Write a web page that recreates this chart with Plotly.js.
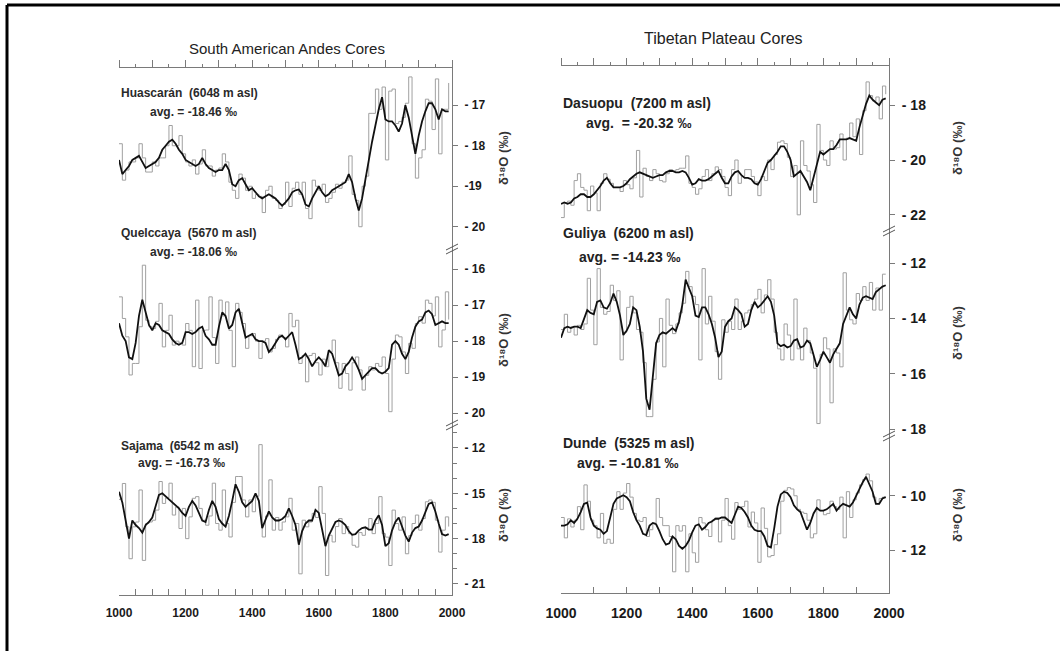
<!DOCTYPE html>
<html>
<head>
<meta charset="utf-8">
<script src="https://cdn.plot.ly/plotly-3.0.1.min.js"></script>
<style>html,body{margin:0;padding:0;background:#fff;}#chart{width:1060px;height:651px;}</style>
</head>
<body>
<div id="chart"></div>
<script>
// ---------- data ----------
const years = [1000,1010,1020,1030,1040,1050,1060,1070,1080,1090,
1100,1110,1120,1130,1140,1150,1160,1170,1180,1190,
1200,1210,1220,1230,1240,1250,1260,1270,1280,1290,
1300,1310,1320,1330,1340,1350,1360,1370,1380,1390,
1400,1410,1420,1430,1440,1450,1460,1470,1480,1490,
1500,1510,1520,1530,1540,1550,1560,1570,1580,1590,
1600,1610,1620,1630,1640,1650,1660,1670,1680,1690,
1700,1710,1720,1730,1740,1750,1760,1770,1780,1790,
1800,1810,1820,1830,1840,1850,1860,1870,1880,1890,
1900,1910,1920,1930,1940,1950,1960,1970,1980,1990];

const huascaranDecadal = [-17.95,-18.85,-18.6,-18.4,-18.4,-18.3,-17.95,-18.3,-18.65,-18.65,
-18.4,-18.5,-18.3,-18.3,-18.0,-17.5,-18.0,-18.0,-17.75,-18.2,
-18.4,-18.5,-18.35,-18.7,-18.45,-18.1,-18.5,-18.5,-18.75,-18.6,
-18.55,-18.2,-18.4,-18.9,-19.1,-19.3,-18.7,-18.8,-19.1,-19.0,
-19.3,-19.2,-19.25,-19.65,-19.1,-19.0,-19.3,-19.35,-19.55,-19.45,
-18.9,-19.5,-19.05,-18.9,-19.2,-18.9,-19.55,-19.8,-18.85,-19.0,
-19.1,-18.95,-19.4,-19.3,-19.15,-18.95,-19.05,-18.9,-18.85,-18.25,
-19.2,-19.35,-20.0,-19.0,-18.75,-17.2,-17.2,-16.6,-17.1,-16.55,
-18.35,-16.65,-16.6,-17.45,-17.4,-17.3,-16.95,-16.3,-17.95,-18.8,
-18.3,-18.1,-16.85,-16.9,-17.6,-16.35,-18.2,-17.1,-17.1,-16.45];
const huascaranSmooth = [-18.35,-18.7,-18.6,-18.5,-18.35,-18.3,-18.25,-18.4,-18.55,-18.5,
-18.45,-18.4,-18.3,-18.1,-18.0,-17.9,-17.85,-17.95,-18.1,-18.2,
-18.35,-18.4,-18.45,-18.5,-18.45,-18.3,-18.45,-18.55,-18.6,-18.65,
-18.6,-18.6,-18.45,-18.6,-18.95,-19.0,-18.85,-18.8,-18.95,-19.1,
-19.05,-19.15,-19.25,-19.3,-19.25,-19.2,-19.25,-19.3,-19.4,-19.48,
-19.4,-19.3,-19.15,-19.1,-19.08,-19.2,-19.45,-19.5,-19.3,-19.15,
-19.0,-19.15,-19.25,-19.2,-19.1,-19.05,-19.0,-18.95,-18.9,-18.7,
-18.9,-19.3,-19.6,-19.3,-18.8,-18.4,-17.9,-17.5,-17.1,-16.8,
-17.35,-17.4,-17.4,-17.5,-17.65,-17.45,-17.0,-17.3,-17.8,-18.2,
-17.75,-17.4,-17.15,-16.95,-16.95,-17.1,-17.35,-17.1,-17.15,-17.15];

const quelccayaDecadal = [-16.77,-17.37,-17.88,-18.94,-18.62,-18.62,-17.6,-15.89,-17.42,-17.6,
-17.65,-17.45,-16.95,-18.16,-17.7,-17.28,-18.11,-18.0,-18.05,-18.11,
-17.51,-17.7,-18.71,-16.86,-18.76,-17.7,-17.69,-16.77,-17.9,-18.62,
-16.86,-17.3,-16.91,-17.7,-18.71,-16.95,-17.2,-17.51,-18.2,-17.85,
-17.79,-18.0,-18.48,-18.0,-17.93,-18.3,-18.2,-17.95,-17.83,-17.9,
-18.16,-17.23,-17.6,-17.42,-18.62,-18.4,-19.13,-18.4,-18.34,-18.6,
-18.94,-18.5,-18.71,-18.3,-17.97,-18.6,-19.31,-18.62,-18.9,-19.36,
-18.6,-18.44,-18.8,-19.36,-18.95,-18.71,-18.8,-18.62,-18.7,-18.44,
-18.9,-19.96,-18.5,-17.83,-17.88,-18.3,-18.9,-18.06,-18.2,-17.51,
-17.32,-17.5,-16.86,-16.95,-17.3,-16.77,-18.16,-17.69,-16.63,-17.4];
const quelccayaSmooth = [-17.5,-17.85,-18.0,-18.45,-18.5,-18.05,-17.3,-16.85,-17.2,-17.55,
-17.7,-17.5,-17.55,-17.7,-17.75,-17.8,-17.95,-18.05,-18.1,-18.05,
-17.75,-17.75,-17.8,-17.75,-17.65,-17.6,-17.85,-17.95,-18.1,-18.1,
-17.6,-17.2,-17.3,-17.65,-17.55,-17.2,-17.1,-17.55,-17.9,-17.85,
-17.8,-17.95,-18.0,-18.0,-18.05,-18.3,-18.2,-18.05,-17.9,-17.85,
-17.95,-17.85,-17.75,-18.1,-18.5,-18.45,-18.35,-18.5,-18.7,-18.55,
-18.45,-18.55,-18.7,-18.25,-18.35,-18.65,-18.95,-18.9,-18.7,-18.6,
-18.45,-18.6,-18.8,-19.05,-18.95,-18.85,-18.75,-18.75,-18.85,-18.9,
-18.85,-18.75,-18.1,-18.0,-18.1,-18.35,-18.5,-18.3,-17.9,-17.6,
-17.45,-17.4,-17.2,-17.15,-17.25,-17.55,-17.5,-17.45,-17.5,-17.5];

const sajamaDecadal = [-15.4,-14.35,-17.22,-19.33,-17.22,-16.9,-14.78,-19.44,-17.0,-16.9,
-16.78,-16.11,-14.22,-15.67,-15.3,-14.33,-16.44,-15.9,-17.33,-16.0,
-18.0,-16.56,-15.33,-15.22,-16.0,-16.78,-17.11,-16.5,-14.33,-17.0,
-17.44,-14.78,-17.0,-17.89,-15.6,-13.89,-13.89,-15.44,-16.56,-15.44,
-16.22,-15.2,-11.78,-17.89,-16.5,-14.11,-17.44,-16.6,-17.44,-16.9,
-16.56,-15.33,-17.44,-17.0,-20.33,-16.78,-17.22,-16.9,-16.33,-16.6,
-14.56,-16.33,-20.44,-17.78,-18.22,-17.2,-16.67,-17.67,-17.2,-17.67,
-18.44,-18.56,-17.6,-17.78,-17.3,-16.67,-17.67,-17.0,-15.22,-17.67,
-17.9,-19.78,-16.11,-17.0,-17.44,-16.56,-19.0,-17.8,-17.0,-16.44,
-17.44,-16.67,-15.56,-15.44,-15.6,-16.78,-18.89,-17.44,-16.56,-17.2];
const sajamaSmooth = [-14.9,-15.6,-16.8,-18.0,-16.8,-17.1,-17.3,-17.6,-17.1,-16.9,
-16.6,-15.8,-15.1,-15.0,-15.2,-15.4,-15.6,-15.75,-16.0,-16.3,
-16.5,-15.9,-15.5,-15.8,-16.3,-16.8,-16.9,-16.1,-15.5,-15.9,
-16.7,-17.0,-17.2,-16.5,-15.5,-14.4,-14.9,-15.6,-15.9,-15.7,
-15.5,-15.0,-15.5,-17.3,-16.8,-16.2,-16.6,-16.8,-16.8,-16.7,
-16.5,-16.0,-16.5,-17.1,-18.4,-17.5,-17.0,-16.8,-16.8,-16.1,
-16.3,-17.3,-18.5,-17.8,-17.3,-16.9,-16.8,-16.9,-17.1,-17.5,
-17.75,-17.7,-17.45,-17.3,-17.25,-17.4,-17.4,-16.8,-16.45,-17.1,
-18.5,-18.3,-17.45,-16.9,-16.6,-17.2,-17.8,-18.2,-17.6,-17.3,
-17.2,-16.8,-16.3,-15.7,-15.6,-16.2,-17.0,-17.7,-17.8,-17.7];

const dasuopuDecadal = [-22.1,-21.55,-21.5,-21.65,-20.75,-20.5,-21.0,-21.1,-21.85,-20.95,
-21.2,-21.85,-20.85,-20.5,-20.7,-20.85,-21.0,-21.0,-21.15,-20.75,
-20.9,-21.05,-20.65,-19.65,-21.35,-20.3,-20.6,-20.75,-20.35,-20.5,
-20.75,-20.8,-20.5,-20.35,-20.4,-20.35,-20.3,-20.3,-19.85,-20.85,
-21.0,-21.25,-21.05,-20.6,-20.35,-20.75,-20.5,-20.25,-20.35,-20.6,
-21.0,-21.3,-20.35,-20.0,-20.85,-20.6,-20.35,-20.35,-20.6,-20.8,
-21.3,-20.6,-20.75,-20.0,-20.35,-19.8,-19.35,-19.3,-19.4,-19.9,
-20.6,-20.2,-22.0,-19.3,-20.2,-20.4,-20.9,-21.55,-18.7,-19.65,
-20.0,-20.2,-19.3,-19.6,-19.55,-19.05,-20.0,-19.2,-18.65,-19.15,
-18.5,-19.8,-18.2,-17.15,-17.65,-17.85,-17.7,-18.5,-17.3,-17.6];
const dasuopuSmooth = [-21.6,-21.55,-21.6,-21.55,-21.4,-21.35,-21.25,-21.25,-21.35,-21.35,
-21.25,-21.1,-20.95,-20.75,-20.65,-20.85,-21.0,-21.0,-21.0,-20.95,
-20.85,-20.7,-20.6,-20.5,-20.45,-20.5,-20.55,-20.6,-20.65,-20.6,
-20.55,-20.55,-20.45,-20.4,-20.4,-20.45,-20.45,-20.4,-20.45,-20.65,
-20.9,-20.85,-20.7,-20.75,-20.75,-20.7,-20.6,-20.5,-20.4,-20.65,
-20.85,-20.85,-20.6,-20.45,-20.4,-20.55,-20.65,-20.65,-20.7,-20.85,
-20.9,-20.7,-20.4,-20.1,-20.0,-19.85,-19.7,-19.5,-19.5,-19.7,
-20.0,-20.6,-20.5,-20.4,-20.6,-20.8,-21.1,-20.6,-20.1,-19.7,
-19.8,-19.7,-19.6,-19.6,-19.45,-19.25,-19.25,-19.25,-19.2,-19.25,
-19.3,-18.8,-18.4,-17.95,-17.65,-17.8,-17.9,-18.0,-17.8,-17.75];

const guliyaDecadal = [-14.4,-13.85,-14.5,-14.3,-14.6,-14.25,-14.4,-14.2,-12.55,-13.7,
-14.95,-12.2,-13.6,-13.85,-13.75,-12.8,-13.35,-13.0,-15.5,-14.5,
-13.6,-13.2,-13.8,-14.4,-14.5,-15.6,-17.55,-17.55,-16.2,-14.85,
-14.0,-15.75,-13.3,-14.25,-14.55,-14.2,-13.8,-13.45,-12.3,-12.85,
-13.2,-13.5,-15.5,-12.2,-14.2,-13.2,-14.1,-15.2,-16.2,-14.05,
-14.5,-14.1,-14.4,-13.3,-14.4,-14.1,-13.8,-13.7,-13.5,-13.3,
-12.95,-13.8,-13.15,-12.6,-13.3,-14.5,-15.1,-15.5,-14.2,-14.6,
-15.5,-13.3,-15.1,-15.5,-14.35,-14.8,-15.25,-15.8,-17.8,-15.3,
-14.7,-15.1,-17.05,-15.1,-15.25,-15.75,-12.35,-13.7,-14.05,-14.2,
-13.1,-13.35,-12.85,-13.35,-12.7,-13.7,-12.9,-13.7,-12.4,-12.4];
const guliyaSmooth = [-14.7,-14.35,-14.3,-14.35,-14.3,-14.3,-14.35,-14.0,-13.7,-13.8,
-13.85,-13.4,-13.35,-13.6,-13.65,-13.45,-13.1,-13.4,-13.9,-14.6,
-14.45,-14.2,-13.6,-13.7,-14.3,-15.2,-16.9,-17.3,-16.2,-14.9,
-14.6,-14.5,-14.55,-14.45,-14.35,-14.45,-14.1,-13.5,-12.6,-12.9,
-13.2,-13.9,-13.95,-13.6,-13.6,-13.85,-14.2,-14.7,-15.4,-15.2,
-14.3,-14.1,-14.0,-13.6,-13.7,-13.85,-14.3,-14.2,-13.7,-13.4,
-13.6,-13.5,-13.35,-13.2,-13.4,-13.9,-14.9,-15.0,-14.95,-15.05,
-15.0,-14.8,-14.75,-15.05,-15.0,-14.8,-14.9,-15.3,-15.75,-15.5,
-15.2,-15.4,-15.6,-15.3,-15.1,-14.9,-14.2,-13.9,-13.6,-13.85,
-14.0,-13.5,-13.25,-13.2,-13.25,-13.3,-13.05,-12.95,-12.85,-12.8];

const dundeDecadal = [-10.8,-11.55,-10.85,-11.15,-10.9,-10.4,-11.25,-9.6,-10.2,-10.9,
-11.1,-11.55,-10.65,-11.75,-11.6,-11.75,-10.5,-9.85,-10.5,-9.9,
-9.55,-10.05,-10.65,-10.9,-10.95,-10.8,-11.5,-11.25,-11.0,-10.1,
-10.8,-11.1,-11.1,-11.5,-12.8,-11.1,-11.3,-11.1,-12.8,-11.4,
-12.1,-12.45,-10.8,-11.0,-11.25,-11.5,-10.9,-10.8,-11.7,-10.9,
-10.1,-11.1,-11.6,-10.25,-10.5,-10.4,-10.2,-11.15,-10.6,-11.0,
-12.45,-10.45,-11.2,-12.25,-12.2,-11.8,-11.4,-10.2,-9.8,-9.7,
-9.75,-10.0,-10.5,-10.6,-10.65,-10.9,-11.55,-11.4,-10.15,-10.55,
-10.7,-10.65,-10.2,-10.4,-10.5,-10.05,-11.55,-9.85,-10.8,-10.15,
-9.9,-9.6,-9.4,-9.2,-9.45,-10.05,-10.3,-10.1,-10.05,-10.05];
const dundeSmooth = [-11.1,-11.1,-11.05,-10.9,-11.0,-10.85,-10.6,-10.3,-10.25,-10.8,
-11.1,-11.2,-11.25,-11.4,-11.3,-10.8,-10.3,-10.1,-10.05,-9.98,
-10.05,-10.2,-10.6,-10.9,-11.1,-11.4,-11.45,-11.1,-11.0,-11.05,
-11.3,-11.6,-11.8,-11.75,-11.5,-11.6,-11.85,-11.95,-11.85,-11.65,
-11.35,-11.1,-11.05,-11.25,-11.15,-11.0,-10.95,-10.85,-10.85,-10.8,
-10.8,-10.9,-11.0,-10.7,-10.4,-10.45,-10.6,-10.8,-11.1,-11.25,
-11.3,-11.3,-11.5,-11.85,-11.9,-11.2,-10.4,-9.95,-9.85,-9.9,
-10.05,-10.35,-10.5,-10.6,-10.9,-11.25,-11.0,-10.65,-10.45,-10.55,
-10.55,-10.5,-10.4,-10.3,-10.55,-10.4,-10.3,-10.35,-10.4,-10.25,
-10.0,-9.7,-9.5,-9.3,-9.55,-9.85,-10.3,-10.3,-10.1,-10.05];

const panelTitles = ["South American Andes Cores", "Tibetan Plateau Cores"];
const siteNames = ["Huascarán  (6048 m asl)", "Quelccaya  (5670 m asl)", "Sajama  (6542 m asl)",
                   "Dasuopu  (7200 m asl)", "Guliya  (6200 m asl)", "Dunde  (5325 m asl)"];
const siteAvgs = ["avg. = -18.46 ‰", "avg. = -18.06 ‰", "avg. = -16.73 ‰",
                  "avg.  = -20.32 ‰", "avg. = -14.23 ‰", "avg. = -10.81 ‰"];
const yTickVals = [[-17,-18,-19,-20],[-16,-17,-18,-19,-20],[-12,-15,-18,-21],
                   [-18,-20,-22],[-12,-14,-16,-18],[-10,-12]];
const yTickText = [["- 17","- 18","-19","- 20"],["- 16","- 17","- 18","- 19","- 20"],["- 12","- 15","- 18","- 21"],
                   ["- 18","- 20","- 22"],["- 12","- 14","- 16","- 18"],["- 10","- 12"]];
const yTitle = 'δ¹⁸O (‰)';

// ---------- layout helpers ----------
const W = 1060, H = 651;
const PX = p => p / W;
const PY = p => 1 - p / H;
const FONT = '"Liberation Sans", Arial, "DejaVu Sans", sans-serif';
const AXC = '#7a7a7a';

const LX = [PX(119), PX(452)];
const RX = [PX(561), PX(889)];

function stepTrace(y, xa, ya) {
  return {x: years, y: y, xaxis: xa, yaxis: ya, mode: 'lines', type: 'scatter',
          line: {shape: 'hv', color: '#a0a0a0', width: 1}, hoverinfo: 'skip', showlegend: false};
}
function smoothTrace(y, xa, ya) {
  return {x: years, y: y, xaxis: xa, yaxis: ya, mode: 'lines', type: 'scatter',
          line: {shape: 'linear', color: '#111', width: 1.8}, hoverinfo: 'skip', showlegend: false};
}

const data = [
  stepTrace(huascaranDecadal, 'x4', 'y'),  smoothTrace(huascaranSmooth, 'x4', 'y'),
  stepTrace(quelccayaDecadal, 'x', 'y2'),  smoothTrace(quelccayaSmooth, 'x', 'y2'),
  stepTrace(sajamaDecadal, 'x', 'y3'),     smoothTrace(sajamaSmooth, 'x', 'y3'),
  stepTrace(dasuopuDecadal, 'x5', 'y4'),   smoothTrace(dasuopuSmooth, 'x5', 'y4'),
  stepTrace(guliyaDecadal, 'x2', 'y5'),    smoothTrace(guliyaSmooth, 'x2', 'y5'),
  stepTrace(dundeDecadal, 'x2', 'y6'),     smoothTrace(dundeSmooth, 'x2', 'y6')
];

const base = {showgrid: false, zeroline: false, showline: true, linecolor: AXC, linewidth: 1,
              tickcolor: AXC, tickwidth: 1, fixedrange: true};

function bottomX(dom, anchor, fs, minorDt) {
  return Object.assign({}, base, {domain: dom, anchor: anchor, range: [1000, 2000],
    tickmode: 'linear', tick0: 1000, dtick: 200, ticks: 'inside', ticklen: 6,
    minor: {tickmode: 'linear', tick0: 1000, dtick: minorDt, ticks: 'inside', ticklen: 6, tickcolor: AXC},
    tickfont: {family: FONT, size: fs, weight: 'bold', color: '#1a1a1a'}, ticklabelstandoff: 7});
}
function topX(dom, anchor) {
  return Object.assign({}, base, {domain: dom, anchor: anchor, side: 'top', range: [1000, 2000],
    tickmode: 'linear', tick0: 1000, dtick: 100, ticks: 'outside', ticklen: 7, showticklabels: false,
    minor: {tickmode: 'linear', tick0: 1000, dtick: 50, ticks: 'outside', ticklen: 3, tickcolor: AXC}});
}
function rightY(i, top, bottom, range, anchor, fs, minor) {
  const ax = Object.assign({}, base, {domain: [PY(bottom), PY(top)], anchor: anchor, side: 'right',
    range: range, tickmode: 'array', tickvals: yTickVals[i], ticktext: yTickText[i],
    ticks: 'outside', ticklen: 5, ticklabelstandoff: 4,
    tickfont: {family: FONT, size: fs, weight: 'bold', color: '#1a1a1a'}});
  if (minor) ax.minor = {tickmode: 'linear', tick0: -21, dtick: 1, ticks: 'outside', ticklen: 4, tickcolor: AXC};
  return ax;
}

function label(text, px, py, size, color) {
  return {text: text, xref: 'paper', yref: 'paper', x: PX(px), y: PY(py), xanchor: 'left', yanchor: 'middle',
          showarrow: false, font: {family: FONT, size: size, weight: 'bold', color: color}};
}
function ytitle(px, py) {
  return {text: yTitle, xref: 'paper', yref: 'paper', x: PX(px), y: PY(py), xanchor: 'center', yanchor: 'middle',
          textangle: -90, showarrow: false, font: {family: FONT, size: 13, weight: 'bold', color: '#333'}};
}
function brk(px, py) {
  const l = {color: '#555', width: 1};
  return [
    {type: 'line', xref: 'paper', yref: 'paper', x0: PX(px - 6), y0: PY(py + 1), x1: PX(px + 6), y1: PY(py - 5), line: l},
    {type: 'line', xref: 'paper', yref: 'paper', x0: PX(px - 6), y0: PY(py + 5), x1: PX(px + 6), y1: PY(py - 1), line: l}
  ];
}

const annotations = [
  {text: panelTitles[0], xref: 'paper', yref: 'paper', x: PX(287), y: PY(48), xanchor: 'center', yanchor: 'middle',
   showarrow: false, font: {family: FONT, size: 15, color: '#222'}},
  {text: panelTitles[1], xref: 'paper', yref: 'paper', x: PX(723), y: PY(38), xanchor: 'center', yanchor: 'middle',
   showarrow: false, font: {family: FONT, size: 16, color: '#222'}},
  label(siteNames[0], 119, 93, 12, '#2a2a2a'),  label(siteAvgs[0], 148, 112, 12, '#2a2a2a'),
  label(siteNames[1], 119, 233, 12, '#2a2a2a'), label(siteAvgs[1], 148, 252, 12, '#2a2a2a'),
  label(siteNames[2], 119, 446, 12, '#2a2a2a'), label(siteAvgs[2], 136, 463, 12, '#2a2a2a'),
  label(siteNames[3], 561, 103, 14, '#222'),    label(siteAvgs[3], 584, 123, 14, '#222'),
  label(siteNames[4], 561, 233, 14, '#222'),    label(siteAvgs[4], 577, 257, 14, '#222'),
  label(siteNames[5], 561, 443, 14, '#222'),    label(siteAvgs[5], 575, 463, 14, '#222'),
  ytitle(503, 158), ytitle(503, 340), ytitle(503, 515),
  ytitle(957, 148), ytitle(957, 333), ytitle(957, 515)
];

const shapes = [
  {type: 'line', xref: 'paper', yref: 'paper', x0: PX(7), y0: PY(5), x1: 1, y1: PY(5), line: {color: '#000', width: 3}},
  {type: 'line', xref: 'paper', yref: 'paper', x0: PX(7), y0: PY(5), x1: PX(7), y1: 0, line: {color: '#000', width: 3}}
].concat(brk(452, 249), brk(452, 425), brk(889, 231), brk(889, 436));

const layout = {
  width: W, height: H, margin: {l: 0, r: 0, t: 0, b: 0, pad: 0},
  paper_bgcolor: '#fff', plot_bgcolor: 'rgba(0,0,0,0)', showlegend: false,
  font: {family: FONT, color: '#222'},
  xaxis: bottomX(LX, 'y3', 12, 50),
  xaxis2: bottomX(RX, 'y6', 14, 100),
  xaxis4: topX(LX, 'y'),
  xaxis5: topX(RX, 'y4'),
  yaxis:  rightY(0, 68, 249, [-20.55, -16.08], 'x4', 12, false),
  yaxis2: rightY(1, 249, 425, [-20.33, -15.44], 'x', 12, false),
  yaxis3: rightY(2, 425, 595, [-21.73, -10.48], 'x', 12, true),
  yaxis4: rightY(3, 66, 231, [-22.59, -16.57], 'x5', 14, false),
  yaxis5: rightY(4, 231, 436, [-18.25, -10.84], 'x2', 14, false),
  yaxis6: rightY(5, 436, 593, [-13.58, -7.8], 'x2', 14, false),
  annotations: annotations,
  shapes: shapes
};

Plotly.newPlot('chart', data, layout, {staticPlot: true, displayModeBar: false});
</script>
</body>
</html>
